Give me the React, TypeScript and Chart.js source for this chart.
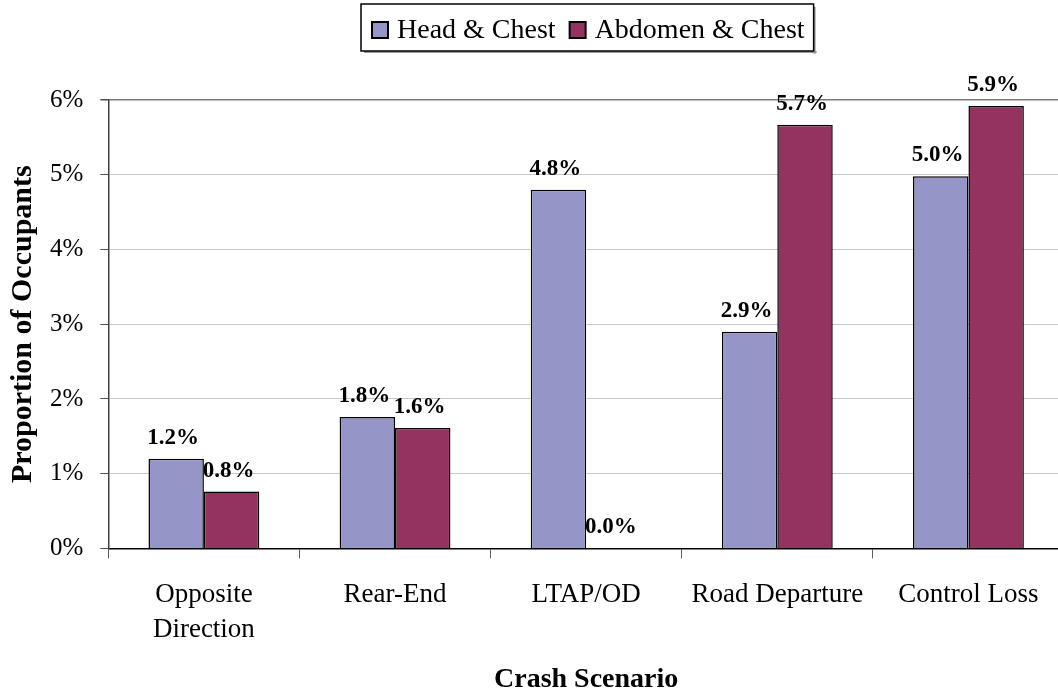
import React, { useEffect, useRef } from 'react';
import { Chart, registerables } from 'chart.js';

Chart.register(...registerables);

const categories: (string | string[])[] = [['Opposite', 'Direction'], 'Rear-End', 'LTAP/OD', 'Road Departure', 'Control Loss'];
const seriesNames = ['Head & Chest', 'Abdomen & Chest'];
const headChest = [1.2, 1.76, 4.8, 2.9, 4.98];
const abdomenChest = [0.76, 1.61, 0, 5.67, 5.92];
const yTicks = [0, 1, 2, 3, 4, 5, 6];
const seriesColors = ['#9595C7', '#943360'];

const SERIF = '"Liberation Serif", "Times New Roman", serif';

const dataLabels = {
  id: 'dataLabels',
  afterDatasetsDraw(chart: any) {
    const ctx = chart.ctx;
    ctx.save();
    ctx.font = `bold 23px ${SERIF}`;
    ctx.fillStyle = '#000';
    ctx.textAlign = 'center';
    ctx.textBaseline = 'alphabetic';
    chart.data.datasets.forEach((ds: any, i: number) => {
      const meta = chart.getDatasetMeta(i);
      meta.data.forEach((bar: any, j: number) => {
        const v = ds.data[j] as number;
        ctx.fillText(`${v.toFixed(1)}%`, bar.x - 3, bar.y - 15);
      });
    });
    ctx.restore();
  },
};

const framedLegend = {
  id: 'framedLegend',
  afterDraw(chart: any) {
    const ctx = chart.ctx;
    const area = chart.chartArea;
    ctx.save();
    ctx.font = `28px ${SERIF}`;
    const sq = 16, gapText = 9, gapItem = 14, padL = 11, padR = 9;
    const names: string[] = chart.data.datasets.map((d: any) => d.label);
    const widths = names.map((n) => ctx.measureText(n).width);
    const total = padL + padR + names.length * (sq + gapText) + widths.reduce((a, b) => a + b, 0) + gapItem * (names.length - 1);
    const cx = (area.left + area.right) / 2 + 1;
    const left = Math.round(cx - total / 2);
    const top = 4;
    const h = 47;
    ctx.fillStyle = '#9a9a9a';
    ctx.fillRect(left + total, top + 3, 2, h);
    ctx.fillRect(left + 3, top + h, total, 2);
    ctx.fillStyle = '#fff';
    ctx.fillRect(left, top, total, h);
    ctx.strokeStyle = '#000';
    ctx.lineWidth = 1.5;
    ctx.strokeRect(left, top, total, h);
    let x = left + padL;
    names.forEach((n, i) => {
      const ds = chart.data.datasets[i];
      ctx.fillStyle = ds.backgroundColor;
      ctx.fillRect(x, top + 18, sq, sq);
      ctx.strokeStyle = '#000';
      ctx.lineWidth = 2;
      ctx.strokeRect(x, top + 18, sq, sq);
      x += sq + gapText;
      ctx.fillStyle = '#000';
      ctx.textBaseline = 'alphabetic';
      ctx.textAlign = 'left';
      ctx.fillText(n, x, top + 34);
      x += widths[i] + gapItem;
    });
    ctx.restore();
  },
};

export default function App() {
  const ref = useRef<HTMLCanvasElement | null>(null);

  useEffect(() => {
    document.body.style.margin = '0';
    const canvas = ref.current;
    if (!canvas) return;
    const chart = new Chart(canvas, {
      type: 'bar',
      data: {
        labels: categories as any,
        datasets: [
          {
            label: seriesNames[0],
            data: headChest,
            backgroundColor: seriesColors[0],
            borderColor: '#000',
            borderWidth: 1.5,
            barPercentage: 1,
            categoryPercentage: 0.58,
          },
          {
            label: seriesNames[1],
            data: abdomenChest,
            backgroundColor: seriesColors[1],
            borderColor: '#000',
            borderWidth: 1.5,
            barPercentage: 1,
            categoryPercentage: 0.58,
          },
        ],
      },
      options: {
        responsive: false,
        animation: false,
        devicePixelRatio: 1,
        layout: { padding: { top: 100, left: 0, right: 0, bottom: 0 } },
        plugins: {
          legend: { display: false },
          tooltip: { enabled: false },
        },
        scales: {
          x: {
            grid: {
              drawOnChartArea: false,
              offset: true,
              tickLength: 10,
              tickColor: '#606060',
              lineWidth: 1,
            },
            border: { color: '#000', width: 1.5 },
            ticks: {
              color: '#000',
              font: { family: SERIF, size: 27, lineHeight: 1.333 },
              padding: 18,
              maxRotation: 0,
              autoSkip: false,
            },
            title: {
              display: true,
              text: 'Crash Scenario',
              color: '#000',
              font: { family: SERIF, size: 28, weight: 'bold' },
              padding: { top: -3, bottom: -1 },
            },
          },
          y: {
            min: 0,
            max: 6,
            afterBuildTicks: (s: any) => {
              s.ticks = yTicks.map((v) => ({ value: v }));
            },
            grid: {
              color: (c: any) => (c.tick && c.tick.value === 6 ? '#7a7a7a' : '#c8c8c8'),
              lineWidth: (c: any) => (c.tick && c.tick.value === 6 ? 1.5 : 1),
              tickLength: 8,
              tickColor: '#505050',
            },
            border: { color: '#404040', width: 1.5 },
            ticks: {
              color: '#000',
              font: { family: SERIF, size: 25 },
              padding: 17,
              callback: (v: any) => `${v}%`,
            },
            title: {
              display: true,
              text: 'Proportion of Occupants',
              color: '#000',
              font: { family: SERIF, size: 30, weight: 'bold' },
              padding: { top: 5, bottom: -8 },
            },
          },
        },
      },
      plugins: [dataLabels, framedLegend],
    });
    return () => chart.destroy();
  }, []);

  return (
    <div style={{ width: 1058, height: 696, overflow: 'hidden', background: '#fff' }}>
      <canvas ref={ref} width={1064} height={696} style={{ width: 1064, height: 696, display: 'block' }} />
    </div>
  );
}
